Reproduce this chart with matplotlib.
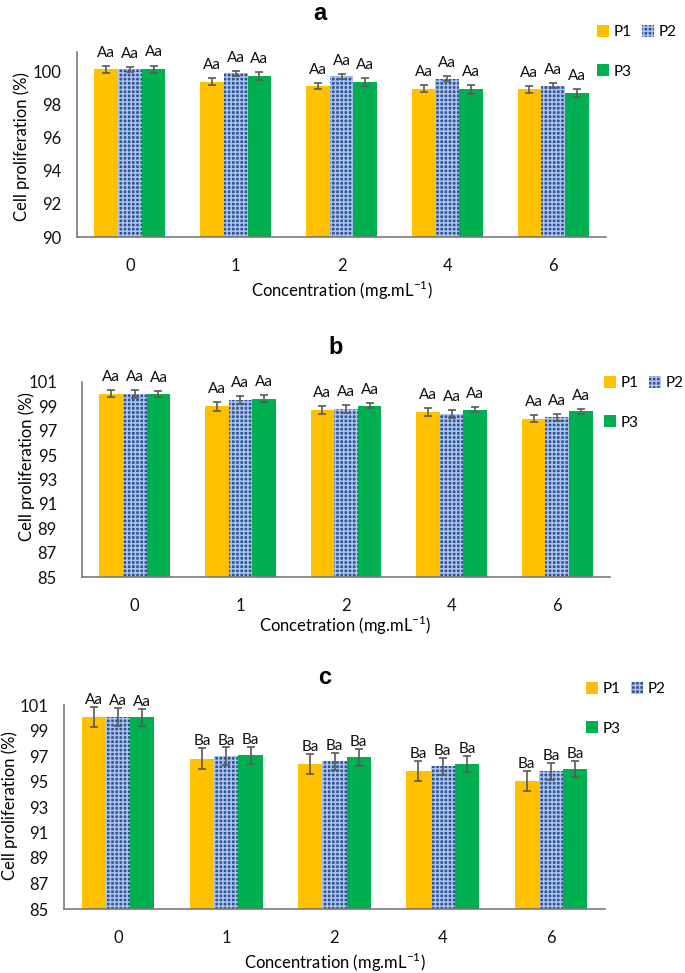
import matplotlib
matplotlib.use("Agg")
import matplotlib.pyplot as plt
import numpy as np
from matplotlib.patches import Patch

plt.rcParams['font.family'] = ['Lato', 'DejaVu Sans']
plt.rcParams['mathtext.fontset'] = 'custom'
plt.rcParams['mathtext.rm'] = 'Lato'
plt.rcParams['hatch.linewidth'] = 1.1

categories = ["0", "1", "2", "4", "6"]
series = ["P1", "P2", "P3"]

# Panel a
a_P1 = [100.15, 99.40, 99.15, 98.99, 98.93]
a_P2 = [100.15, 99.90, 99.72, 99.58, 99.17]
a_P3 = [100.15, 99.72, 99.38, 98.93, 98.69]
a_P1_err = [0.22, 0.20, 0.20, 0.20, 0.22]
a_P2_err = [0.14, 0.16, 0.16, 0.14, 0.16]
a_P3_err = [0.23, 0.24, 0.22, 0.25, 0.24]
a_letters = ["Aa", "Aa", "Aa", "Aa", "Aa"]

# Panel b
b_P1 = [100.03, 98.99, 98.72, 98.53, 98.00]
b_P2 = [100.03, 99.50, 98.80, 98.34, 98.10]
b_P3 = [100.03, 99.64, 99.07, 98.72, 98.58]
b_P1_err = [0.30, 0.33, 0.31, 0.30, 0.31]
b_P2_err = [0.33, 0.34, 0.33, 0.33, 0.31]
b_P3_err = [0.23, 0.27, 0.23, 0.22, 0.24]
b_letters = ["Aa", "Aa", "Aa", "Aa", "Aa"]

# Panel c
c_P1 = [100.05, 96.80, 96.36, 95.81, 95.03]
c_P2 = [100.05, 96.98, 96.57, 96.20, 95.81]
c_P3 = [100.05, 97.06, 96.90, 96.36, 95.97]
c_P1_err = [0.78, 0.80, 0.78, 0.78, 0.78]
c_P2_err = [0.68, 0.69, 0.68, 0.68, 0.68]
c_P3_err = [0.67, 0.65, 0.65, 0.64, 0.65]
c_letters = ["Aa", "Ba", "Ba", "Ba", "Ba"]

a_yticks = [90, 92, 94, 96, 98, 100]
bc_yticks = [85, 87, 89, 91, 93, 95, 97, 99, 101]

W, H = 685, 973
fig = plt.figure(figsize=(W / 100, H / 100), dpi=100)

P1_COLOR = "#FFC000"
P3_COLOR = "#00B050"
P2_FACE = "#31528F"
P2_HATCH = "#A9C4F0"
SPINE = "#7a7a7a"
ERR = "#595959"


def px_axes(left, right, top, bottom):
    return fig.add_axes([left / W, 1 - bottom / H, (right - left) / W, (bottom - top) / H])


def draw_panel(ax, vals, errs, letters, ylim, yticks, ytick_pad, lab_off):
    x = np.arange(len(categories))
    w = 0.224
    styles = [dict(color=P1_COLOR), dict(color=P2_FACE, hatch="++++", edgecolor=P2_HATCH, linewidth=0),
              dict(color=P3_COLOR)]
    for i, (v, e, st) in enumerate(zip(vals, errs, styles)):
        xi = x + (i - 1) * w
        ax.bar(xi, v, width=w, bottom=0, zorder=2, **st)
        ax.errorbar(xi, v, yerr=e, fmt="none", ecolor=ERR, elinewidth=1.2, capsize=3.2,
                    capthick=1.2, zorder=3)
        for j in range(len(categories)):
            ax.annotate(letters[j], (xi[j], v[j] + e[j]), xytext=(0, lab_off), textcoords="offset points",
                        ha="center", va="center", fontsize=11, color="#111111")
    ax.set_xlim(-0.5, len(categories) - 0.5)
    ax.set_ylim(*ylim)
    ax.set_yticks(yticks)
    ax.set_yticklabels([str(t) for t in yticks])
    ax.set_xticks(x)
    ax.set_xticklabels(categories)
    for s in ["top", "right"]:
        ax.spines[s].set_visible(False)
    for s in ["left", "bottom"]:
        ax.spines[s].set_color(SPINE)
        ax.spines[s].set_linewidth(1.2)
    ax.tick_params(axis="x", length=0, pad=15, labelsize=12, colors="#111111")
    ax.tick_params(axis="y", length=0, pad=ytick_pad, labelsize=12, colors="#111111")
    ax.set_facecolor("none")


def legend_at(x_px, y_px):
    handles = [Patch(facecolor=P1_COLOR, edgecolor="none"),
               Patch(facecolor=P3_COLOR, edgecolor="none"),
               Patch(facecolor=P2_FACE, hatch="++++", edgecolor=P2_HATCH, linewidth=0)]
    labels = ["P1", "P3", "P2"]
    fig.legend(handles, labels, loc="upper left", bbox_to_anchor=(x_px / W, 1 - y_px / H),
               ncol=2, frameon=False, borderpad=0, borderaxespad=0, handlelength=0.8,
               handleheight=0.8, handletextpad=0.3, columnspacing=0.65, labelspacing=1.65,
               fontsize=11)


# Panel a
ax_a = px_axes(77, 606, 52, 237)
draw_panel(ax_a, [a_P1, a_P2, a_P3], [a_P1_err, a_P2_err, a_P3_err], a_letters,
           (90, 101.2), a_yticks, 11, 9.4)
fig.text(320 / W, 1 - 13 / H, "a", ha="center", va="center", fontsize=17, fontweight="bold",
         family="Liberation Sans")
fig.text(342 / W, 1 - 290 / H, "Concentration (mg.mL$^{\\mathregular{-1}}$)", ha="center", va="center",
         fontsize=12)
fig.text(22 / W, 1 - 147 / H, "Cell proliferation (%)", ha="center", va="center", rotation=90,
         fontsize=12)
legend_at(597, 25)

# Panel b
ax_b = px_axes(82, 610, 382, 577)
draw_panel(ax_b, [b_P1, b_P2, b_P3], [b_P1_err, b_P2_err, b_P3_err], b_letters,
           (85, 101), bc_yticks, 18, 9.4)
fig.text(336 / W, 1 - 347 / H, "b", ha="center", va="center", fontsize=17, fontweight="bold",
         family="Liberation Sans")
fig.text(345 / W, 1 - 625 / H, "Concetration (mg.mL$^{\\mathregular{-1}}$)", ha="center", va="center",
         fontsize=12)
fig.text(27 / W, 1 - 467 / H, "Cell proliferation (%)", ha="center", va="center", rotation=90,
         fontsize=12)
legend_at(604, 376)

# Panel c
ax_c = px_axes(64, 605, 705, 909)
draw_panel(ax_c, [c_P1, c_P2, c_P3], [c_P1_err, c_P2_err, c_P3_err], c_letters,
           (85, 101), bc_yticks, 11, 5.0)
fig.text(325 / W, 1 - 677 / H, "c", ha="center", va="center", fontsize=17, fontweight="bold",
         family="Liberation Sans")
fig.text(335 / W, 1 - 962 / H, "Concentration (mg.mL$^{\\mathregular{-1}}$)", ha="center", va="center",
         fontsize=12)
fig.text(10 / W, 1 - 806 / H, "Cell proliferation (%)", ha="center", va="center", rotation=90,
         fontsize=12)
legend_at(586, 682)

fig.savefig("out.png", dpi=100, facecolor="white")
